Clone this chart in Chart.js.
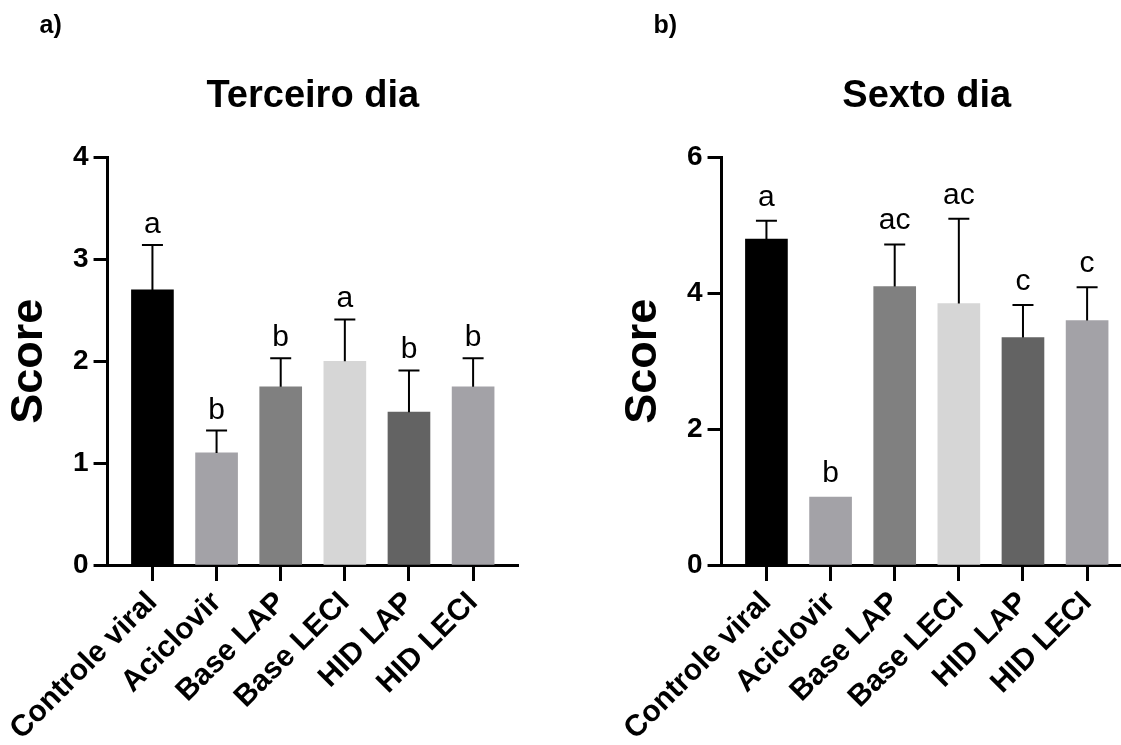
<!DOCTYPE html>
<html>
<head>
<meta charset="utf-8">
<script src="https://cdn.jsdelivr.net/npm/chart.js@4.4.1/dist/chart.umd.min.js"></script>
<style>
  html, body { margin: 0; padding: 0; background: #ffffff; overflow: hidden; }
  body { width: 1121px; height: 745px; position: relative; }
  .panel { position: absolute; top: 0; width: 560px; height: 745px; }
  #panelA { left: 0; }
  #panelB { left: 614px; }
</style>
</head>
<body>
<div class="panel" id="panelA"><canvas id="chartA" width="560" height="745"></canvas></div>
<div class="panel" id="panelB"><canvas id="chartB" width="560" height="745"></canvas></div>
<script>
// Treatment groups (x axis)
const groups = ['Controle viral', 'Aciclovir', 'Base LAP', 'Base LECI', 'HID LAP', 'HID LECI'];

// Day 3 score: mean, SD and significance letters
const day3Mean = [2.7, 1.1, 1.75, 2.0, 1.5, 1.75];
const day3Sd = [0.44, 0.22, 0.28, 0.41, 0.41, 0.28];
const day3Letters = ['a', 'b', 'b', 'a', 'b', 'b'];
const day3Ticks = [0, 1, 2, 3, 4];

// Day 6 score: mean, SD and significance letters
const day6Mean = [4.8, 1.0, 4.1, 3.85, 3.35, 3.6];
const day6Sd = [0.27, 0, 0.62, 1.25, 0.48, 0.49];
const day6Letters = ['a', 'b', 'ac', 'ac', 'c', 'c'];
const day6Ticks = [0, 2, 4, 6];

const barColors = ['#000000', '#a3a2a7', '#808080', '#d6d6d6', '#636363', '#a3a2a7'];
const FONT = "'Liberation Sans', Arial, Helvetica, sans-serif";

// Upper error bars with caps, and group letters above them
const errorBarPlugin = {
  id: 'errorBars',
  afterDatasetsDraw(chart, args, opts) {
    const {ctx, scales: {x, y}} = chart;
    ctx.save();
    ctx.strokeStyle = '#000';
    ctx.lineWidth = 2;
    opts.mean.forEach((m, i) => {
      const px = x.getPixelForValue(i);
      const yBar = y.getPixelForValue(m);
      const yTop = y.getPixelForValue(m + opts.sd[i]);
      if (opts.sd[i] > 0) {
        ctx.beginPath();
        ctx.moveTo(px, yBar);
        ctx.lineTo(px, yTop);
        ctx.moveTo(px - 10.5, yTop);
        ctx.lineTo(px + 10.5, yTop);
        ctx.stroke();
      }
      ctx.fillStyle = '#000';
      ctx.font = '30px ' + FONT;
      ctx.textAlign = 'center';
      ctx.textBaseline = 'alphabetic';
      ctx.fillText(opts.letters[i], px, yTop - opts.gap);
    });
    ctx.restore();
  }
};

// Panel heading and panel letter
const headingPlugin = {
  id: 'heading',
  afterDraw(chart, args, opts) {
    const {ctx, chartArea} = chart;
    ctx.save();
    ctx.fillStyle = '#000';
    ctx.textBaseline = 'alphabetic';
    ctx.font = 'bold 38px ' + FONT;
    ctx.textAlign = 'center';
    ctx.fillText(opts.title, (chartArea.left + chartArea.right) / 2, 107);
    ctx.font = 'bold 25px ' + FONT;
    ctx.textAlign = 'left';
    ctx.fillText(opts.panel, chartArea.left - 68, 33);
    ctx.restore();
  }
};

function makeChart(canvasId, mean, sd, letters, ticks, yMax, title, panel, gap) {
  const points = mean.map((v, i) => ({x: i, y: v}));
  return new Chart(document.getElementById(canvasId), {
    type: 'bar',
    data: {
      datasets: [{
        data: points,
        backgroundColor: barColors,
        borderWidth: 0,
        barThickness: 42
      }]
    },
    plugins: [errorBarPlugin, headingPlugin],
    options: {
      responsive: false,
      animation: false,
      layout: {padding: {top: 157.5, right: 42, bottom: 0, left: 0}},
      plugins: {
        legend: {display: false},
        tooltip: {enabled: false},
        errorBars: {mean: mean, sd: sd, letters: letters, gap: gap},
        heading: {title: title, panel: panel}
      },
      scales: {
        x: {
          type: 'linear',
          min: -0.7,
          max: 5.7,
          offset: false,
          afterBuildTicks: (scale) => { scale.ticks = groups.map((g, i) => ({value: i})); },
          afterFit: (scale) => { scale.height = 180; },
          border: {display: true, color: '#000', width: 3},
          grid: {display: true, offset: false, drawOnChartArea: false, drawTicks: true, tickLength: 16, tickWidth: 3, tickColor: '#000'},
          ticks: {
            autoSkip: false,
            minRotation: 45,
            maxRotation: 45,
            padding: 4,
            color: '#000',
            font: {family: FONT, size: 30, weight: 'bold'},
            callback: (v) => groups[v]
          }
        },
        y: {
          min: 0,
          max: yMax,
          afterBuildTicks: (scale) => { scale.ticks = ticks.map(v => ({value: v})); },
          afterFit: (scale) => { scale.width = 107; },
          border: {display: true, color: '#000', width: 3},
          grid: {display: true, drawOnChartArea: false, drawTicks: true, tickLength: 14, tickWidth: 3, tickColor: '#000'},
          ticks: {
            padding: 5,
            color: '#000',
            font: {family: FONT, size: 28, weight: 'bold'}
          },
          title: {
            display: true,
            text: 'Score',
            color: '#000',
            padding: {top: 2, bottom: 0},
            font: {family: FONT, size: 45, weight: 'bold'}
          }
        }
      }
    }
  });
}

makeChart('chartA', day3Mean, day3Sd, day3Letters, day3Ticks, 4, 'Terceiro dia', 'a)', 12);
makeChart('chartB', day6Mean, day6Sd, day6Letters, day6Ticks, 6, 'Sexto dia', 'b)', 15);
</script>
</body>
</html>
